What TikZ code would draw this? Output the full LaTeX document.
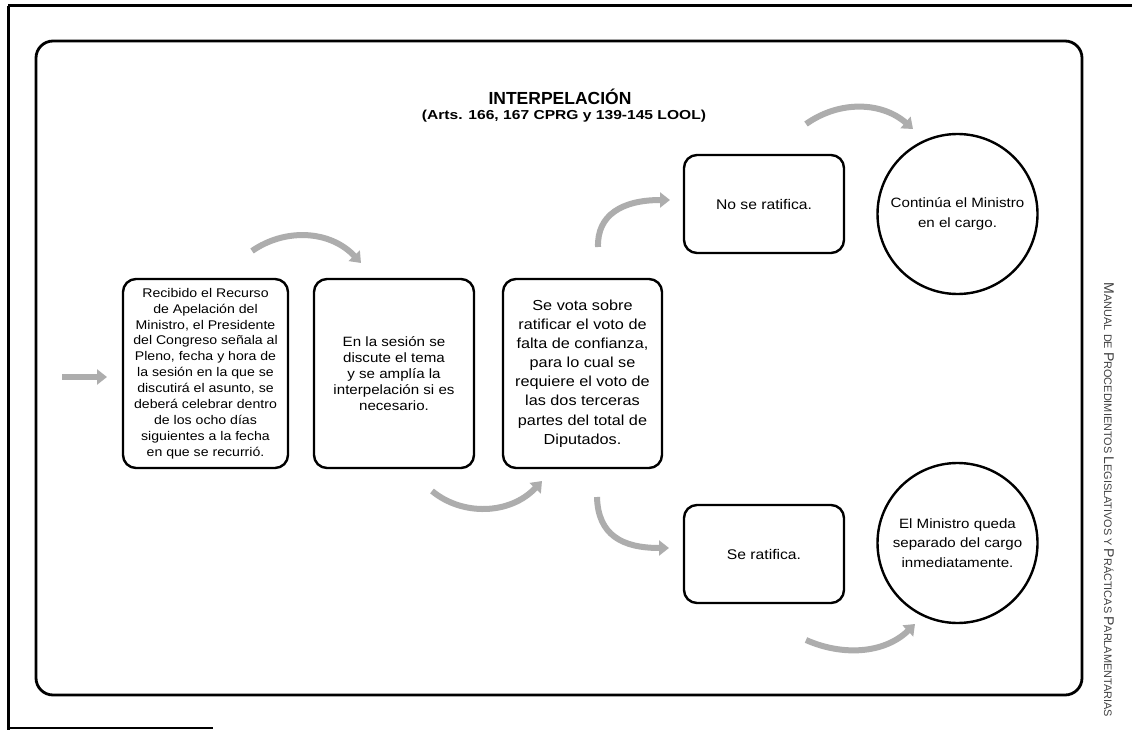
\documentclass[tikz,border=0pt]{standalone}
\usepackage{fontspec}
\usepackage{graphicx}
\setmainfont{Liberation Sans}
\newfontfamily\boxfont{Liberation Sans}[FakeStretch=1.12]
\usetikzlibrary{arrows.meta}

\newcommand{\smcp}[2]{{\fontsize{8}{8}\selectfont #1}{\fontsize{6.2}{6.2}\selectfont #2}}

\tikzset{
  frame/.style={draw=black, line width=2.8pt, rounded corners=17pt},
  stepbox/.style={draw=black, line width=2.4pt, rounded corners=13pt, align=center,
    font=\boxfont, inner sep=0pt},
  endcircle/.style={draw=black, line width=2.4pt, circle, minimum size=160pt,
    align=center, font=\boxfont\fontsize{13.5}{19.5}\selectfont, inner sep=0pt},
  flow/.style={draw=black!32, line width=6pt,
    -{Triangle[width=15pt,length=10pt]}},
}

\begin{document}
\begin{tikzpicture}[x=1pt, y=-1pt]
  \useasboundingbox[fill=white] (0,0) rectangle (1132,730);

  % page edges
  \draw[line width=3pt] (8,6) -- (1132,6);
  \draw[line width=3pt] (8,6) -- (8,730);
  \draw[line width=1.4pt] (10,728) -- (213,728);

  % main frame
  \draw[frame] (36,41) rectangle (1082,695);

  % heading
  \node[font=\bfseries\fontsize{17.5}{20}\selectfont] (title) at (560,97) {INTERPELACIÓN};
  \node[font=\bfseries\fontsize{13}{15}\selectfont\addfontfeature{FakeStretch=1.2}] (subtitle) at (564,116)
    {(Arts. 166, 167 CPRG y 139-145 LOOL)};

  % process steps
  \node[stepbox, minimum width=165pt, minimum height=189pt,
        font=\boxfont\fontsize{12.6}{15.9}\selectfont] (recibido) at (205.5,373.5)
    {Recibido el Recurso\\de Apelación del\\Ministro, el Presidente\\del Congreso señala al\\Pleno, fecha y hora de\\la sesión en la que se\\discutirá el asunto, se\\deberá celebrar dentro\\de los ocho días\\siguientes a la fecha\\en que se recurrió.};

  \node[stepbox, minimum width=160pt, minimum height=189pt,
        font=\boxfont\fontsize{13.5}{16}\selectfont] (sesion) at (394,373.5)
    {En la sesión se\\discute el tema\\y se amplía la\\interpelación si es\\necesario.};

  \node[stepbox, minimum width=159pt, minimum height=189pt,
        font=\boxfont\fontsize{14.5}{19.1}\selectfont] (vota) at (582.5,373.5)
    {Se vota sobre\\ratificar el voto de\\falta de confianza,\\para lo cual se\\requiere el voto de\\las dos terceras\\partes del total de\\Diputados.};

  \node[stepbox, minimum width=160pt, minimum height=98pt,
        font=\boxfont\fontsize{14}{18}\selectfont] (noratifica) at (764,204)
    {No se ratifica.};

  \node[stepbox, minimum width=160pt, minimum height=98pt,
        font=\boxfont\fontsize{14}{18}\selectfont] (ratifica) at (764,554)
    {Se ratifica.};

  % outcomes
  \node[endcircle] (continua) at (957.5,214) {Continúa el Ministro\\en el cargo.};
  \node[endcircle] (separado) at (957.5,543) {El Ministro queda\\separado del cargo\\inmediatamente.};

  % arrow end points
  \coordinate (in0) at (62,377);   \coordinate (in1) at (107,377);
  \coordinate (a0) at (252,251);   \coordinate (a1) at (361,263);
  \coordinate (b0) at (432,491);   \coordinate (b1) at (542,481);
  \coordinate (c0) at (598,247);   \coordinate (c1) at (670,200);
  \coordinate (d0) at (597,497);   \coordinate (d1) at (669,548);
  \coordinate (e0) at (806,124);   \coordinate (e1) at (913,129);
  \coordinate (f0) at (806,640);   \coordinate (f1) at (915,624);

  % flow arrows
  \draw[flow] (in0) -- (in1);
  \draw[flow] (a0) .. controls (285,228) and (330,230) .. (a1);
  \draw[flow] (b0) .. controls (462,516) and (510,515) .. (b1);
  \draw[flow] (c0) .. controls (597,215) and (622,200) .. (c1);
  \draw[flow] (d0) .. controls (598,535) and (622,548) .. (d1);
  \draw[flow] (e0) .. controls (840,100) and (882,102) .. (e1);
  \draw[flow] (f0) .. controls (842,656) and (884,654) .. (f1);

  % running title
  \node[rotate=-90, inner sep=0pt, text=black!75] (runner) at (1109,500)
    {\resizebox{434pt}{!}{\smcp{M}{ANUAL DE }\smcp{P}{ROCEDIMIENTOS }\smcp{L}{EGISLATIVOS Y }\smcp{P}{RÁCTICAS }\smcp{P}{ARLAMENTARIAS}}};
\end{tikzpicture}
\end{document}
